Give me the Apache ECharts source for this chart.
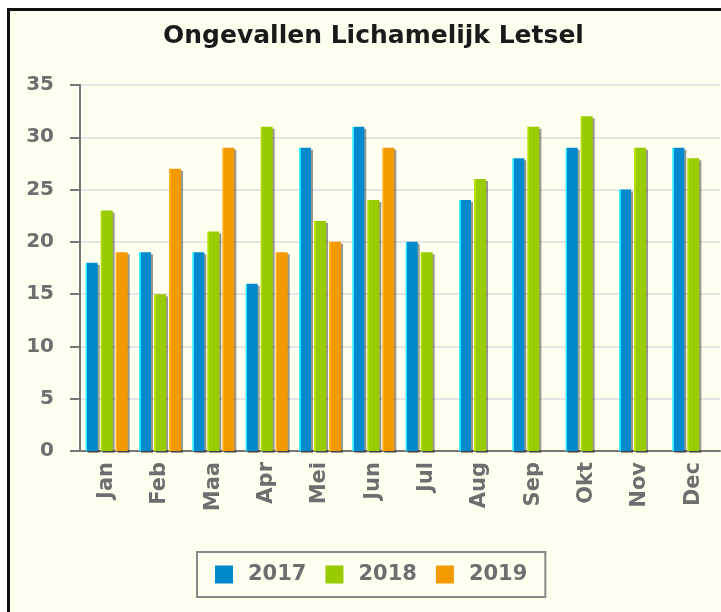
<!DOCTYPE html>
<html>
<head>
<meta charset="utf-8">
<script src="https://cdn.jsdelivr.net/npm/echarts@6/dist/echarts.min.js"></script>
<style>
  body { margin: 0; background: #fff; }
  #chart { width: 721px; height: 612px; }
</style>
</head>
<body>
<div id="chart"></div>
<script>
const months = ["Jan", "Feb", "Maa", "Apr", "Mei", "Jun", "Jul", "Aug", "Sep", "Okt", "Nov", "Dec"];
const years = ["2017", "2018", "2019"];
const y2017 = [18, 19, 19, 16, 29, 31, 20, 24, 28, 29, 25, 29];
const y2018 = [23, 15, 21, 31, 22, 24, 19, 26, 31, 32, 29, 28];
const y2019 = [19, 27, 29, 19, 20, 29, null, null, null, null, null, null];

const gray = "#6e6e6e";
const font = "DejaVu Sans";
const bodyColors = ["#008acd", "#99cc00", "#f29a00"];
const edgeColors = ["#22eeff", "#b4e000", "#ffb020"];

// bar look: light edge on the left, flat body, grey drop shadow
const barStyle = (edge, body) => ({
  color: new echarts.graphic.LinearGradient(0, 0, 1, 0, [
    { offset: 0, color: edge },
    { offset: 0.14, color: edge },
    { offset: 0.15, color: body },
    { offset: 1, color: body },
  ]),
  shadowColor: "rgba(0,0,0,0.4)",
  shadowOffsetX: 2,
  shadowOffsetY: 2,
  shadowBlur: 0,
});

const makeSeries = (name, data, i) => ({
  name: name,
  type: "bar",
  data: data,
  barWidth: 12,
  barGap: "25%",
  itemStyle: barStyle(edgeColors[i], bodyColors[i]),
});

echarts.init(document.querySelector("#chart")).setOption({
  backgroundColor: "#fff",
  animation: false,
  graphic: [
    {
      type: "rect",
      z: -100,
      silent: true,
      shape: { x: 8.5, y: 9.5, width: 800, height: 700 },
      style: { fill: "#fffff0", stroke: "#111", lineWidth: 3 },
    },
  ],
  title: {
    text: "Ongevallen Lichamelijk Letsel",
    left: 158,
    top: 19,
    textStyle: { fontFamily: font, fontSize: 25, fontWeight: "bold", color: "#1a1a1a" },
  },
  grid: { left: 80, right: 1, top: 85, bottom: 161 },
  legend: {
    data: years.map((y, i) => ({
      name: y,
      itemStyle: { color: bodyColors[i], shadowColor: "transparent" },
    })),
    left: 197,
    top: 552,
    padding: [12, 18, 12, 18],
    itemWidth: 18,
    itemHeight: 18,
    itemGap: 19,
    icon: "rect",
    borderColor: "#888",
    borderWidth: 2,
    textStyle: {
      fontFamily: font,
      fontSize: 21,
      fontWeight: "bold",
      color: gray,
      padding: [0, 0, 0, 10],
    },
  },
  xAxis: {
    type: "category",
    data: months,
    axisLine: { lineStyle: { color: "#777", width: 2 } },
    axisTick: { length: 9, lineStyle: { color: "#777", width: 2 } },
    axisLabel: {
      rotate: 90,
      margin: 11,
      fontFamily: font,
      fontSize: 21,
      fontWeight: "bold",
      color: gray,
    },
  },
  yAxis: {
    type: "value",
    min: 0,
    max: 35,
    interval: 5,
    axisLine: { show: true, lineStyle: { color: "#777", width: 2 } },
    axisTick: { show: true, length: 10, lineStyle: { color: "#777", width: 2 } },
    axisLabel: {
      margin: 26,
      fontFamily: font,
      fontSize: 20,
      fontWeight: "bold",
      color: gray,
    },
    splitLine: { lineStyle: { color: "#e4e4e4", width: 2 } },
  },
  series: [
    makeSeries("2017", y2017, 0),
    makeSeries("2018", y2018, 1),
    makeSeries("2019", y2019, 2),
  ],
});
</script>
</body>
</html>
